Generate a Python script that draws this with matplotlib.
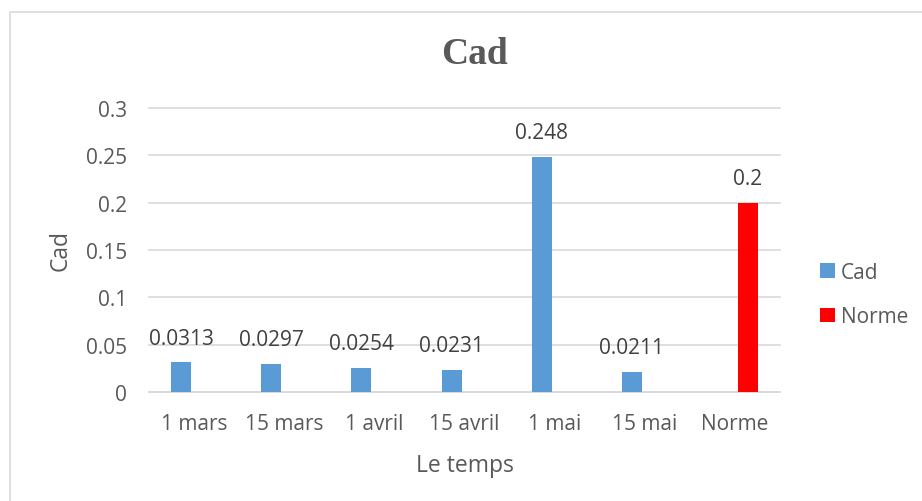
import matplotlib.pyplot as plt
from matplotlib.patches import Rectangle
import numpy as np

categories = ['1 mars', '15 mars', '1 avril', '15 avril', '1 mai', '15 mai', 'Norme']
cad = [0.0313, 0.0297, 0.0254, 0.0231, 0.248, 0.0211, None]
norme = [None, None, None, None, None, None, 0.2]
cad_labels = ['0.0313', '0.0297', '0.0254', '0.0231', '0.248', '0.0211', None]
norme_labels = [None, None, None, None, None, None, '0.2']

plt.rcParams['font.family'] = ['Open Sans', 'DejaVu Sans']
txt = '#595959'

fig = plt.figure(figsize=(9.22, 5.02), dpi=100)
fig.patches.append(Rectangle((10/922, -0.1), 1.2, 0.1 + (502 - 12.5)/502,
                             transform=fig.transFigure, fill=False,
                             edgecolor='#D9D9D9', linewidth=1.2))
ax = fig.add_axes([149/922, (502-393)/502, 631/922, 284/502])

x = np.arange(len(categories))
w = 0.222
off = 0.144


def draw(vals, labels, shift, color, name):
    xs = [x[i] + shift for i, v in enumerate(vals) if v is not None]
    ys = [v for v in vals if v is not None]
    ax.bar(xs, ys, width=w, color=color, label=name, zorder=3)
    for xi, yi, lab in zip(xs, ys, [l for l in labels if l is not None]):
        ax.annotate(lab, (xi, yi), xytext=(0, 17.5), textcoords='offset points',
                    ha='center', va='center', fontsize=15, color='#404040')


draw(cad, cad_labels, -off, '#5B9BD5', 'Cad')
draw(norme, norme_labels, off, '#FF0000', 'Norme')

ax.set_xlim(-0.5, len(categories) - 0.5)
ax.set_ylim(0, 0.3)
ax.set_yticks([0, 0.05, 0.1, 0.15, 0.2, 0.25, 0.3])
ax.set_yticklabels(['0', '0.05', '0.1', '0.15', '0.2', '0.25', '0.3'])
ax.set_xticks(x)
ax.set_xticklabels(categories)
ax.tick_params(axis='both', length=0, labelsize=15, labelcolor=txt)
ax.tick_params(axis='x', pad=15)
ax.tick_params(axis='y', pad=16)
ax.grid(axis='y', color='#D9D9D9', linewidth=1.2, zorder=0)
ax.set_axisbelow(True)
for s in ['top', 'right', 'left']:
    ax.spines[s].set_visible(False)
ax.spines['bottom'].set_color('#D9D9D9')
ax.spines['bottom'].set_linewidth(1.2)
for line in ax.get_ygridlines():
    line.set_clip_on(False)

ax.set_xlabel('Le temps', fontsize=16.5, color=txt, labelpad=14)
ax.set_ylabel('Cad', fontsize=16.5, color=txt, labelpad=9)
fig.text(474/922, 1 - 55/502, 'Cad', ha='center', va='center',
         fontsize=27, fontweight='bold', color=txt,
         family=['Liberation Serif', 'DejaVu Serif'])

ax.legend(loc='center left', bbox_to_anchor=(820/922, 1 - 295.5/502),
          bbox_transform=fig.transFigure, borderpad=0, borderaxespad=0,
          frameon=False, fontsize=15, labelcolor=txt,
          handlelength=0.7, handleheight=0.7,
          handletextpad=0.3, labelspacing=1.15)

fig.savefig('out.png', dpi=100)
